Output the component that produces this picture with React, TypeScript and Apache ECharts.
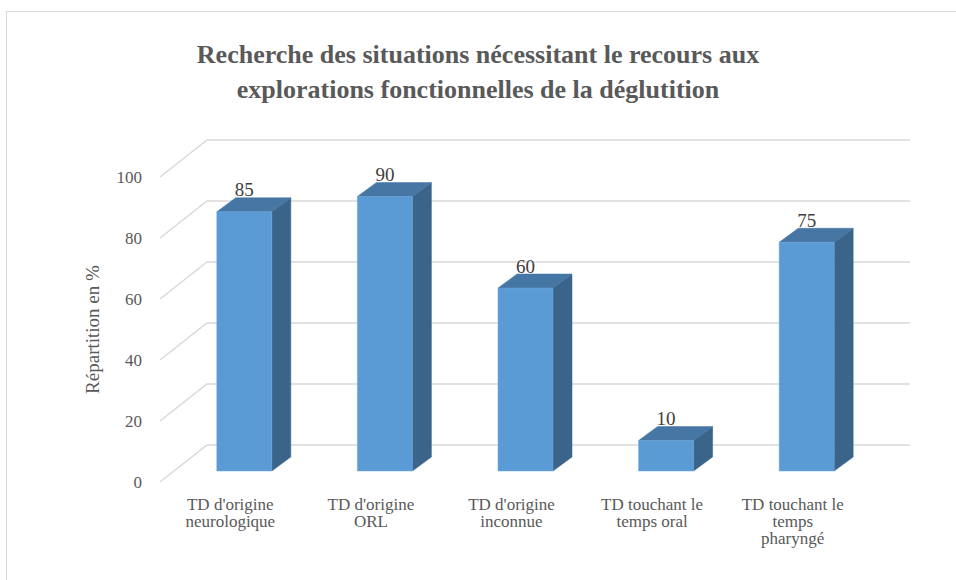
import React, { useEffect, useRef } from "react";
import * as echarts from "echarts";

const titleLines = [
  "Recherche des situations nécessitant le recours aux",
  "explorations fonctionnelles de la déglutition",
];
const categories = [
  "TD d'origine neurologique",
  "TD d'origine ORL",
  "TD d'origine inconnue",
  "TD touchant le temps oral",
  "TD touchant le temps pharyngé",
];
const categoryLabels = [
  "TD d'origine\nneurologique",
  "TD d'origine\nORL",
  "TD d'origine\ninconnue",
  "TD touchant le\ntemps oral",
  "TD touchant le\ntemps\npharyngé",
];
const values = [85, 90, 60, 10, 75];
const yTicks = [0, 20, 40, 60, 80, 100];
const yAxisName = "Répartition en %";

export default function App() {
  const ref = useRef<HTMLDivElement>(null);
  useEffect(() => {
    if (!ref.current) return;
    const chart = echarts.init(ref.current, null, { renderer: "svg" });
    const wallDx = 47;
    const wallDy = -37;
    const barDx = 14;
    const barDy = -11;
    const depthX = 19;
    const depthY = -14;
    const barW = 55;
    chart.setOption({
      animation: false,
      title: [
        {
          text: titleLines[0],
          left: "center",
          top: 36,
          textStyle: {
            fontFamily: "Liberation Serif",
            fontSize: 26,
            fontWeight: "bold",
            color: "#595959",
          },
        },
        {
          text: titleLines[1],
          left: "center",
          top: 71,
          textStyle: {
            fontFamily: "Liberation Serif",
            fontSize: 26,
            fontWeight: "bold",
            color: "#595959",
          },
        },
      ],
      grid: { left: 160, right: 93, top: 177, bottom: 98 },
      xAxis: {
        type: "category",
        data: categories,
        axisLine: { show: false },
        axisTick: { show: false },
        axisLabel: {
          interval: 0,
          margin: 14,
          fontFamily: "Liberation Serif",
          fontSize: 17,
          color: "#595959",
          formatter: (_v: string, i: number) => categoryLabels[i],
        },
      },
      yAxis: {
        type: "value",
        min: 0,
        max: 100,
        interval: 20,
        name: yAxisName,
        nameLocation: "middle",
        nameGap: 58,
        nameTextStyle: { fontFamily: "Liberation Serif", fontSize: 19, color: "#595959" },
        axisLine: { show: false },
        axisTick: { show: false },
        splitLine: { show: false },
        axisLabel: {
          margin: 18,
          fontFamily: "Liberation Serif",
          fontSize: 17,
          color: "#595959",
        },
      },
      series: [
        {
          type: "custom",
          z: 1,
          silent: true,
          data: yTicks.map((t) => [0, t]),
          renderItem: (params: any, api: any) => {
            const cs = params.coordSys;
            const y = api.coord([0, api.value(1)])[1];
            return {
              type: "polyline",
              shape: {
                points: [
                  [cs.x, y],
                  [cs.x + wallDx, y + wallDy],
                  [cs.x + cs.width + wallDx, y + wallDy],
                ],
              },
              style: { stroke: "#D9D9D9", lineWidth: 1.5, fill: "none" },
            };
          },
        },
        {
          type: "custom",
          z: 2,
          data: values.map((v, i) => [i, v]),
          renderItem: (_params: any, api: any) => {
            const i = api.value(0);
            const v = api.value(1);
            const top = api.coord([i, v]);
            const base = api.coord([i, 0]);
            const cx = top[0] + barDx;
            const x1 = cx - barW / 2;
            const x2 = cx + barW / 2;
            const yt = top[1] + barDy;
            const yb = base[1] + barDy;
            return {
              type: "group",
              children: [
                {
                  type: "polygon",
                  shape: {
                    points: [
                      [x2, yt],
                      [x2 + depthX, yt + depthY],
                      [x2 + depthX, yb + depthY],
                      [x2, yb],
                    ],
                  },
                  style: { fill: "#3A6489", stroke: "#3A6489", lineWidth: 0.5 },
                },
                {
                  type: "polygon",
                  shape: {
                    points: [
                      [x1, yt],
                      [x1 + depthX, yt + depthY],
                      [x2 + depthX, yt + depthY],
                      [x2, yt],
                    ],
                  },
                  style: { fill: "#4576A4", stroke: "#4576A4", lineWidth: 0.5 },
                },
                {
                  type: "rect",
                  shape: { x: x1, y: yt, width: barW, height: yb - yt },
                  style: { fill: "#5B9BD5", stroke: "#6BA5D9", lineWidth: 0.5 },
                },
                {
                  type: "text",
                  x: cx,
                  y: yt - 22,
                  style: {
                    text: String(v),
                    fontFamily: "Liberation Serif",
                    fontSize: 19,
                    fill: "#404040",
                    textAlign: "center",
                    textVerticalAlign: "middle",
                  },
                },
              ],
            };
          },
        },
      ],
    });
    return () => chart.dispose();
  }, []);
  return (
    <div style={{ position: "absolute", left: 0, top: 0, width: 956, height: 580, overflow: "hidden", background: "#fff" }}>
      <div
        style={{
          position: "absolute",
          left: 6,
          top: 11,
          width: 1000,
          height: 1000,
          border: "1px solid #D9D9D9",
          boxSizing: "border-box",
        }}
      />
      <div
        ref={ref}
        style={{ position: "absolute", left: 0, top: 0, width: 956, height: 580 }}
      />
    </div>
  );
}
